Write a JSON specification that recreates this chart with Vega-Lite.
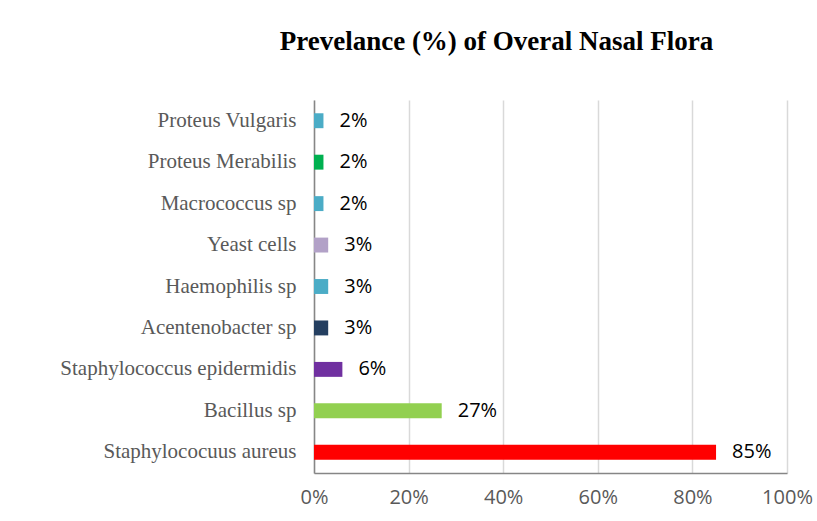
{
  "$schema": "https://vega.github.io/schema/vega-lite/v6.json",
  "autosize": {"type": "none"},
  "width": 473,
  "height": 373,
  "padding": {"left": 314, "top": 100, "right": 30, "bottom": 48},
  "background": "white",
  "title": {
    "text": "Prevelance (%) of Overal Nasal Flora",
    "font": "Liberation Serif",
    "fontSize": 27,
    "fontWeight": "bold",
    "color": "#000000",
    "anchor": "middle",
    "frame": "group",
    "dx": -54,
    "offset": 44
  },
  "data": {
    "values": [
      {"organism": "Proteus Vulgaris", "pct": 0.02, "label": "2%", "color": "#4BACC6"},
      {"organism": "Proteus Merabilis", "pct": 0.02, "label": "2%", "color": "#00B050"},
      {"organism": "Macrococcus sp", "pct": 0.02, "label": "2%", "color": "#4BACC6"},
      {"organism": "Yeast cells", "pct": 0.03, "label": "3%", "color": "#B2A1C7"},
      {"organism": "Haemophilis sp", "pct": 0.03, "label": "3%", "color": "#4BACC6"},
      {"organism": "Acentenobacter sp", "pct": 0.03, "label": "3%", "color": "#243F60"},
      {"organism": "Staphylococcus epidermidis", "pct": 0.06, "label": "6%", "color": "#7030A0"},
      {"organism": "Bacillus sp", "pct": 0.27, "label": "27%", "color": "#92D050"},
      {"organism": "Staphylococuus aureus", "pct": 0.85, "label": "85%", "color": "#FF0000"}
    ]
  },
  "encoding": {
    "y": {
      "field": "organism",
      "type": "nominal",
      "sort": null,
      "scale": {"paddingInner": 0.64, "paddingOuter": 0.32},
      "axis": {
        "title": null,
        "ticks": false,
        "labelFont": "Liberation Serif",
        "labelFontSize": 21,
        "labelColor": "#595959",
        "labelPadding": 18,
        "domainColor": "#868686",
        "domainWidth": 1.5,
        "grid": false,
        "labelLimit": 400
      }
    },
    "x": {
      "field": "pct",
      "type": "quantitative",
      "scale": {"domain": [0, 1], "nice": false},
      "axis": {
        "title": null,
        "format": ".0%",
        "values": [0, 0.2, 0.4, 0.6, 0.8, 1],
        "ticks": false,
        "labelFlush": false,
        "labelFont": "Open Sans",
        "labelFontSize": 20,
        "labelColor": "#595959",
        "labelPadding": 14,
        "domainColor": "#868686",
        "domainWidth": 1.5,
        "gridColor": "#D9D9D9",
        "gridWidth": 1.5
      }
    }
  },
  "layer": [
    {
      "mark": {"type": "bar"},
      "encoding": {
        "color": {"field": "color", "type": "nominal", "scale": null}
      }
    },
    {
      "mark": {"type": "text", "align": "left", "baseline": "middle", "dx": 16, "font": "Open Sans", "fontSize": 20, "color": "#000000"},
      "encoding": {"text": {"field": "label"}}
    }
  ],
  "config": {"view": {"stroke": null}}
}
